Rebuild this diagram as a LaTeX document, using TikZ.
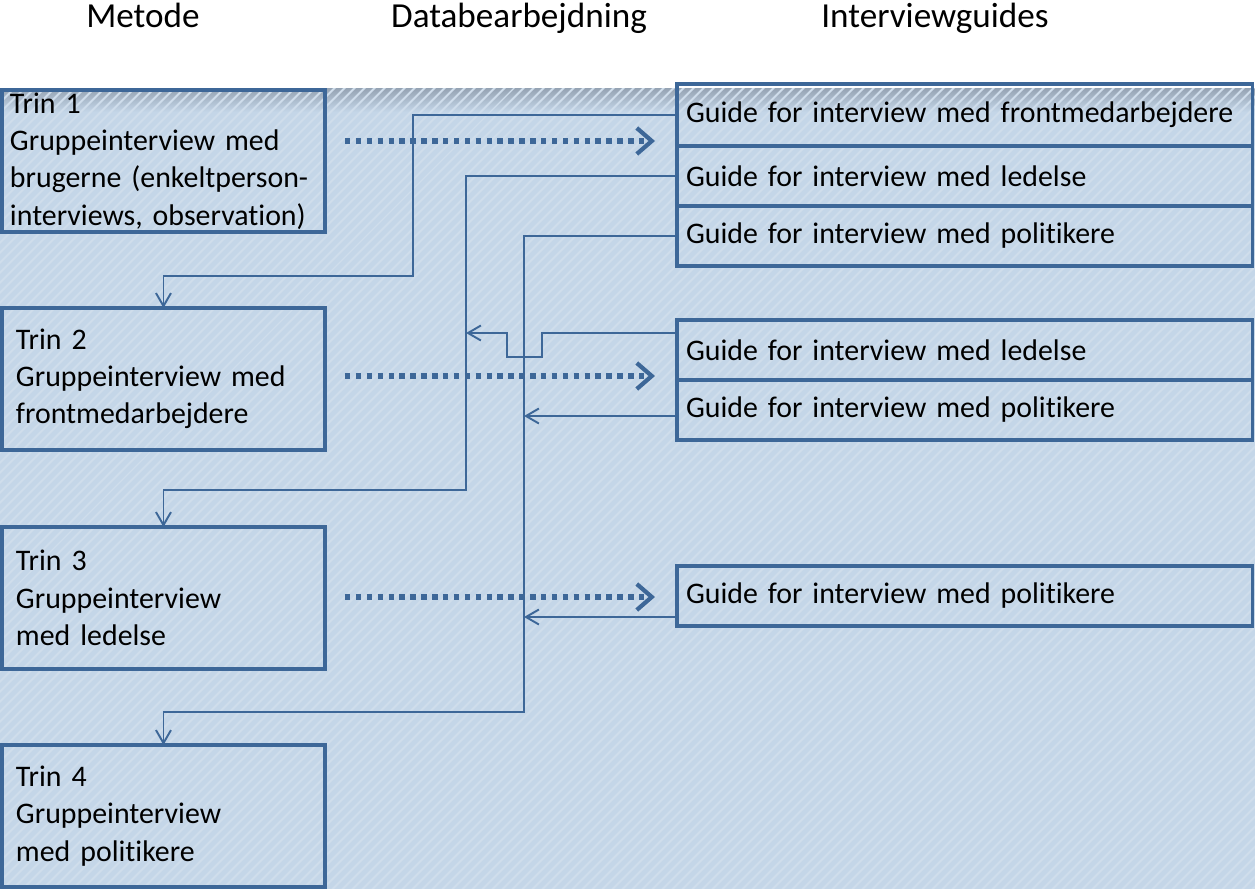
\documentclass[tikz,border=0pt]{standalone}
\usepackage{fontspec}
\setmainfont[Ligatures=NoCommon, WordSpace=0.6]{Carlito}
\usepackage{xcolor}
\definecolor{colorFrame}{HTML}{3D6798}
\definecolor{colorBack}{HTML}{C4D6E8}
\definecolor{colorHatch}{HTML}{CFDDEB}
\definecolor{colorShadow}{HTML}{95A3B3}
\usetikzlibrary{arrows.meta, positioning, patterns.meta}
\tikzset{
  boxfont/.style={font=\fontsize{17}{21.2}\selectfont},
  headfont/.style={font=\fontsize{20}{24}\selectfont},
  trin/.style={boxfont, draw=colorFrame, line width=1.8pt, outer sep=0pt, anchor=north west, minimum width=6.46cm, minimum height=2.84cm, inner xsep=0.28cm, text width=5.9cm, align=left},
  guide/.style={boxfont, draw=colorFrame, line width=1.8pt, outer sep=0pt, minimum width=11.52cm, minimum height=1.2cm, inner xsep=0.18cm, text width=11.16cm, align=left},
  link/.style={colorFrame, line width=1.1pt, -{Straight Barb[length=0.26cm, width=0.3cm]}},
  flow/.style={colorFrame, line width=3.1pt, dash pattern=on 3.1pt off 3.1pt, -{Straight Barb[length=0.3cm, width=0.52cm, line width=2.4pt]}, shorten <=0.4cm, shorten >=0.44cm}
}

\begin{document}
\begin{tikzpicture}[x=0.02cm, y=-0.02cm]
\useasboundingbox (0,0) rectangle (1255,889);
\fill[colorBack] (0,88) rectangle (1255,889);
\shade[top color=colorShadow, bottom color=colorBack] (0,88) rectangle (1255,112);
\fill[pattern={Lines[angle=45, distance=4pt, line width=1.2pt]}, pattern color=colorHatch] (0,88) rectangle (1255,889);

\node[headfont, anchor=base] (hmetode) at (143,28) {Metode};
\node[headfont, anchor=base] (hdata) at (519,28) {Databearbejdning};
\node[headfont, anchor=base] (hguide) at (935,28) {Interviewguides};

\node[trin, inner xsep=0.16cm, inner ysep=0pt, text width=6.14cm] (trin1) at (2,90) {Trin 1\\Gruppeinterview med\\brugerne (enkeltperson-\\interviews, observation)};
\node[trin] (trin2) at (2,308) {Trin 2\\Gruppeinterview med\\frontmedarbejdere};
\node[trin] (trin3) at (2,527) {Trin 3\\Gruppeinterview\\med ledelse};
\node[trin] (trin4) at (2,745) {Trin 4\\Gruppeinterview\\med politikere};

\node[guide, anchor=north west, minimum height=1.24cm] (g1a) at (677,84) {Guide for interview med frontmedarbejdere};
\node[guide, below=0pt of g1a] (g1b) {Guide for interview med ledelse};
\node[guide, below=0pt of g1b] (g1c) {Guide for interview med politikere};
\node[guide, anchor=north west] (g2a) at (677,320) {Guide for interview med ledelse};
\node[guide, below=0pt of g2a] (g2b) {Guide for interview med politikere};
\node[guide, anchor=north west] (g3a) at (677,566) {Guide for interview med politikere};

\coordinate (f1) at (345,141);
\coordinate (f2) at (345,376);
\coordinate (f3) at (345,597);
\coordinate (j1) at (466,333);
\coordinate (j2) at (524,416);
\coordinate (j3) at (524,617);

\draw[flow] (f1 -| trin1.east) -- (f1 -| g1a.west);
\draw[flow] (f2 -| trin2.east) -- (f2 -| g2a.west);
\draw[flow] (f3 -| trin3.east) -- (f3 -| g3a.west);

\draw[link] (g1a.west) -| (413,276) -| (trin2.north);
\draw[link] (g1b.west) -| (466,490) -| (trin3.north);
\draw[link] (g1c.west) -| (524,712) -| (trin4.north);
\draw[link] (j1 -| g2a.west) -| (542,357) -| (507,333) -- (j1);
\draw[link] (j2 -| g2b.west) -- (j2);
\draw[link] (j3 -| g3a.west) -- (j3);
\end{tikzpicture}
\end{document}
